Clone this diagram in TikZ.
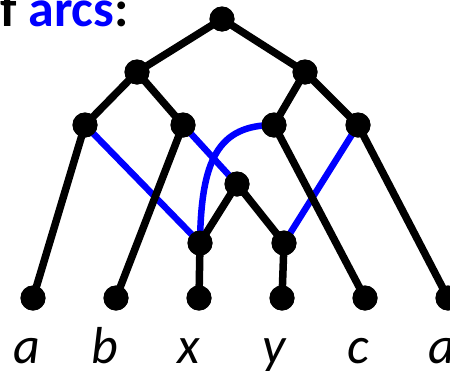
\documentclass[tikz,border=0pt]{standalone}
\usepackage{fontspec}
\setmainfont{Carlito}
\begin{document}
\begin{tikzpicture}[x=1pt,y=-1pt,
  dot/.style={circle,fill=black,inner sep=0pt,minimum size=25pt},
  edge/.style={line width=7.5pt,black},
  arc/.style={line width=6.5pt,blue},
  lab/.style={font=\fontsize{52}{60}\selectfont\itshape,anchor=base}]
\useasboundingbox (0,0) rectangle (450,370);
\node[anchor=base east,font=\fontsize{52}{60}\selectfont\bfseries,inner sep=0pt] (title) at (129,26) {f \textcolor{blue}{arcs}:};
\node[dot] (root) at (222,19) {};
\node[dot] (L) at (137,72) {};
\node[dot] (R) at (305,72) {};
\node[dot] (LL) at (85,125) {};
\node[dot] (LR) at (183,125) {};
\node[dot] (RL) at (274,125) {};
\node[dot] (RR) at (358,125) {};
\node[dot] (M) at (237,184) {};
\node[dot] (X) at (200,243) {};
\node[dot] (Y) at (284,243) {};
\node[dot] (la) at (33,298) {};
\node[dot] (lb) at (116,298) {};
\node[dot] (lx) at (199,298) {};
\node[dot] (ly) at (282,298) {};
\node[dot] (lc) at (365,298) {};
\node[dot] (ld) at (448,298) {};
\node[lab] (ta) at (27,363) {a};
\node[lab] (tb) at (105,363) {b};
\node[lab] (tx) at (189,363) {x};
\node[lab] (ty) at (274,363) {y};
\node[lab] (tc) at (358,363) {c};
\node[lab] (td) at (442,363) {a};
% blue arcs
\draw[arc] (LL.center) -- (X.center);
\draw[arc] (LR.center) -- (M.center);
\draw[arc] (X.center) .. controls (201,160) and (218,125) .. (RL.center);
\draw[arc] (Y.center) -- (RR.center);
% black edges
\draw[edge] (root.center) -- (L.center);
\draw[edge] (root.center) -- (R.center);
\draw[edge] (L.center) -- (LL.center);
\draw[edge] (L.center) -- (LR.center);
\draw[edge] (R.center) -- (RL.center);
\draw[edge] (R.center) -- (RR.center);
\draw[edge] (LL.center) -- (la.center);
\draw[edge] (LR.center) -- (lb.center);
\draw[edge] (M.center) -- (X.center);
\draw[edge] (M.center) -- (Y.center);
\draw[edge] (X.center) -- (lx.center);
\draw[edge] (Y.center) -- (ly.center);
\draw[edge] (RL.center) -- (lc.center);
\draw[edge] (RR.center) -- (ld.center);
% redraw dots on top
\foreach \n in {root,L,R,LL,LR,RL,RR,M,X,Y,la,lb,lx,ly,lc,ld}
  \fill[black] (\n.center) circle (12.5pt);
\end{tikzpicture}
\end{document}
